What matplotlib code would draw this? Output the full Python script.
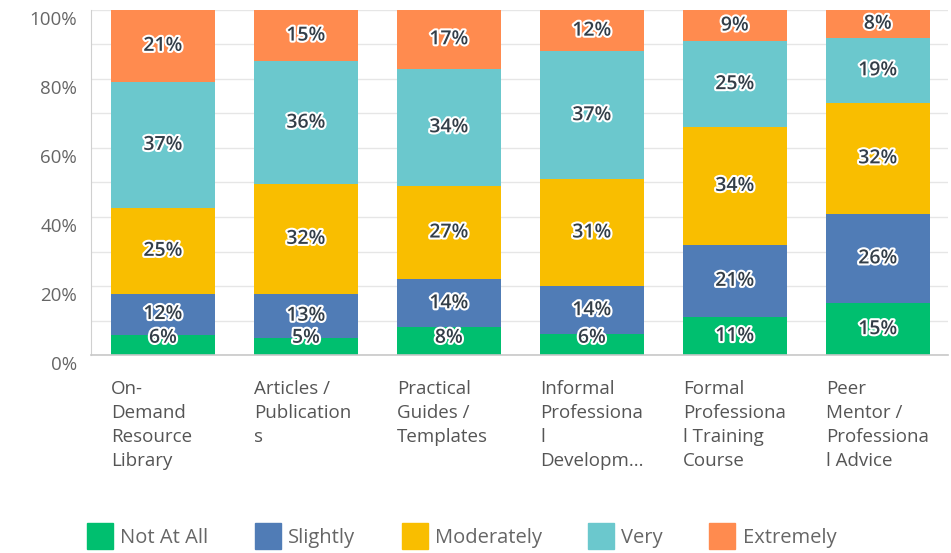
import matplotlib.pyplot as plt
import matplotlib.patheffects as pe
import matplotlib.transforms as mtransforms
from matplotlib.lines import Line2D
import numpy as np

plt.rcParams['font.family'] = ['Open Sans', 'DejaVu Sans']

categories = ["On-\nDemand\nResource\nLibrary",
              "Articles /\nPublication\ns",
              "Practical\nGuides /\nTemplates",
              "Informal\nProfessiona\nl\nDevelopm...",
              "Formal\nProfessiona\nl Training\nCourse",
              "Peer\nMentor /\nProfessiona\nl Advice"]
levels = ["Not At All", "Slightly", "Moderately", "Very", "Extremely"]
not_at_all = [6, 5, 8, 6, 11, 15]
slightly = [12, 13, 14, 14, 21, 26]
moderately = [25, 32, 27, 31, 34, 32]
very = [37, 36, 34, 37, 25, 19]
extremely = [21, 15, 17, 12, 9, 8]
colors = ["#00BF6F", "#507CB6", "#F9BE00", "#6BC8CD", "#FF8B4F"]

series = np.array([not_at_all, slightly, moderately, very, extremely], dtype=float)
shares = series / series.sum(axis=0) * 100

fig = plt.figure(figsize=(9.51, 5.53), dpi=100)
ax = fig.add_axes([0.0957, 0.358, 0.901, 0.624])

x = np.arange(len(categories))
width = 0.727
bottom = np.zeros(len(categories))
stroke = [pe.withStroke(linewidth=3, foreground='white')]
for vals, shr, col in zip(series, shares, colors):
    ax.bar(x, shr, width, bottom=bottom, color=col, zorder=2)
    for i in range(len(x)):
        yc = max(bottom[i] + shr[i] / 2, 5)
        ax.text(x[i], yc, f"{int(vals[i])}%", ha='center', va='center',
                fontsize=14, fontweight='semibold', color='#333e48',
                path_effects=stroke, zorder=3)
    bottom += shr

ax.set_xlim(-0.503, 5.49)
ax.set_ylim(0, 100)
ax.set_yticks(range(0, 101, 20))
ax.set_yticklabels([f"{v}%" for v in range(0, 101, 20)])
ax.set_yticks(range(0, 101, 10), minor=True)
ax.grid(axis='y', which='both', color='#e6e6e6', linewidth=1, zorder=0)
ax.tick_params(axis='y', which='both', length=0, labelsize=13.5, labelcolor='#666666', pad=10)
shift = mtransforms.ScaledTranslation(0, -8 / 100, fig.dpi_scale_trans)
for lab in ax.get_yticklabels():
    lab.set_transform(lab.get_transform() + shift)
ax.set_xticks([])
for s in ['top', 'right']:
    ax.spines[s].set_visible(False)
ax.spines['left'].set_color('#d0d0d0')
ax.spines['bottom'].set_color('#c8c8c8')
ax.spines['bottom'].set_linewidth(1.2)

for i, lab in enumerate(categories):
    ax.text(x[i] - width / 2, -0.072, lab, transform=ax.get_xaxis_transform(),
            ha='left', va='top', fontsize=13.5, color='#555555', linespacing=1.42)

handles = [Line2D([], [], marker='s', linestyle='none', markersize=19,
                  markerfacecolor=c, markeredgecolor=c) for c in colors]
fig.legend(handles, levels, loc='center', bbox_to_anchor=(0.486, 0.027), ncol=5,
           frameon=False, fontsize=14.5, labelcolor='#666666', handletextpad=0.4,
           columnspacing=2.35, handlelength=1.2)

fig.savefig("out.png", dpi=100)
